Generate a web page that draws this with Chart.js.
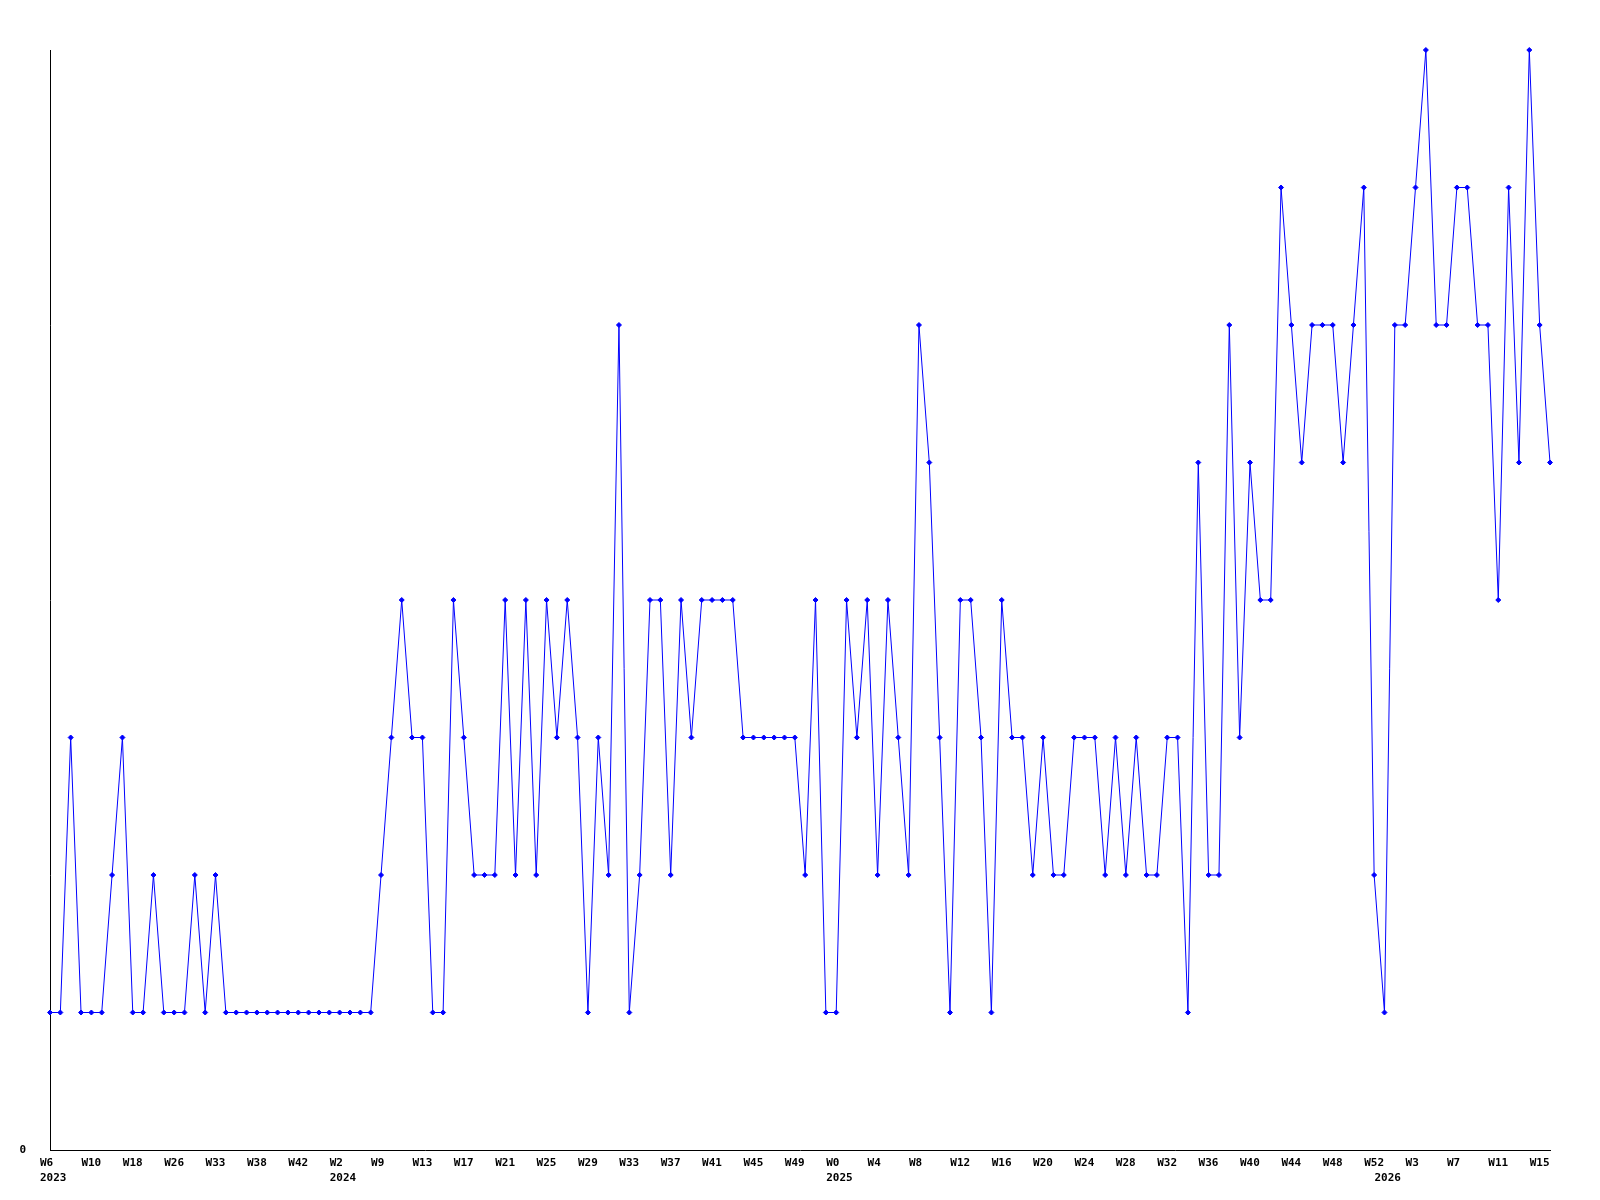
<!DOCTYPE html>
<html>
<head>
<meta charset="utf-8">
<script src="https://cdn.jsdelivr.net/npm/chart.js@4.4.0/dist/chart.umd.min.js"></script>
<style>
  html, body { margin: 0; padding: 0; background: #ffffff; }
  canvas { display: block; }
</style>
</head>
<body>
<canvas id="c" width="1600" height="1200" style="width:1600px;height:1200px"></canvas>
<script>
// Weekly values, one per data point (146 points)
const values = [
  1,1,3,1,1,1,2,3,1,1,
  2,1,1,1,2,1,2,1,1,1,
  1,1,1,1,1,1,1,1,1,1,
  1,1,2,3,4,3,3,1,1,4,
  3,2,2,2,4,2,4,2,4,3,
  4,3,1,3,2,6,1,2,4,4,
  2,4,3,4,4,4,4,3,3,3,
  3,3,3,2,4,1,1,4,3,4,
  2,4,3,2,6,5,3,1,4,4,
  3,1,4,3,3,2,3,2,2,3,
  3,3,2,3,2,3,2,2,3,3,
  1,5,2,2,6,3,5,4,4,7,
  6,5,6,6,6,5,6,7,2,1,
  6,6,7,8,6,6,7,7,6,6,
  4,7,5,8,6,5
];

// Week tick labels, shown on every 4th point
const tickLabels = [
  'W6','W10','W18','W26','W33','W38','W42',
  'W2','W9','W13','W17','W21','W25','W29','W33','W37','W41','W45','W49',
  'W0','W4','W8','W12','W16','W20','W24','W28','W32','W36','W40','W44','W48','W52',
  'W3','W7','W11','W15'
];
const tickEvery = 4;

// Year labels and the index of the first point of each year
const yearNames = ['2023','2024','2025','2026'];
const yearStart = [0, 28, 76, 129];

const categories = values.map((_, i) => i);

const tickFont = { family: 'DejaVu Sans Mono', size: 11, weight: 'bold', lineHeight: '15px' };

new Chart(document.getElementById('c'), {
  type: 'line',
  data: {
    labels: categories,
    datasets: [{
      data: values,
      borderColor: '#0000ff',
      backgroundColor: '#0000ff',
      borderWidth: 1,
      tension: 0,
      fill: false,
      clip: false,
      pointStyle: 'rectRot',
      pointRadius: 2.5,
      pointBorderWidth: 1,
      pointBorderColor: '#0000ff',
      pointBackgroundColor: '#0000ff'
    }]
  },
  options: {
    responsive: false,
    animation: false,
    events: [],
    layout: { padding: { top: 50, right: 50, left: 0, bottom: 0 } },
    plugins: { legend: { display: false }, tooltip: { enabled: false } },
    scales: {
      x: {
        type: 'category',
        offset: false,
        grid: { display: false, drawTicks: false },
        border: { display: true, color: '#000000', width: 1 },
        afterFit: (s) => { s.height = 50; },
        ticks: {
          autoSkip: false,
          maxRotation: 0,
          minRotation: 0,
          align: 'start',
          labelOffset: -10,
          padding: 6,
          color: '#000000',
          font: tickFont,
          callback: function (value, index) {
            const week = index % tickEvery === 0 ? (tickLabels[index / tickEvery] || '') : '';
            const y = yearStart.indexOf(index);
            if (y >= 0) return [week, yearNames[y]];
            return week;
          }
        }
      },
      y: {
        min: 0,
        max: 8,
        grid: { display: false, drawTicks: false },
        border: { display: true, color: '#000000', width: 1 },
        afterFit: (s) => { s.width = 50; },
        ticks: {
          stepSize: 1,
          padding: 24,
          color: '#000000',
          font: tickFont,
          callback: (v) => (v === 0 ? '0' : '')
        }
      }
    }
  }
});
</script>
</body>
</html>
